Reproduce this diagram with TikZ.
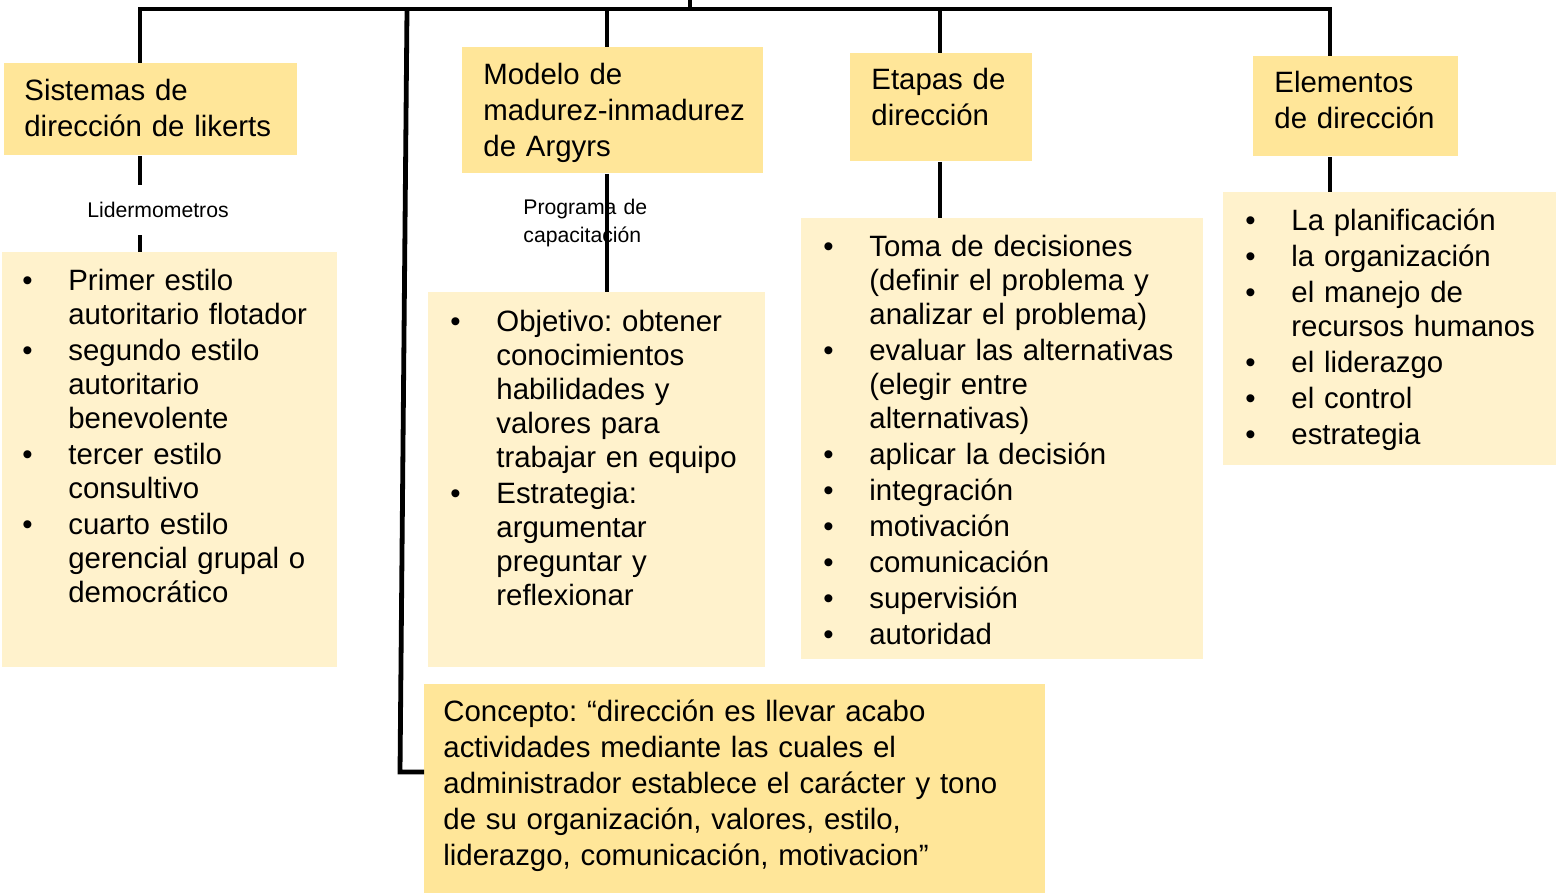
\documentclass[tikz,border=0pt]{standalone}
\usepackage{fontspec}
\setmainfont{Liberation Sans}
\usetikzlibrary{positioning}
\frenchspacing

\definecolor{hdrfill}{HTML}{FFE699}
\definecolor{listfill}{HTML}{FFF2CC}

\newcommand{\bul}[1]{\noindent\hangindent=23pt\hangafter=1\makebox[23pt][l]{\textbullet}#1\par}

\begin{document}
\begin{tikzpicture}[
    x=0.5pt, y=-0.5pt,
    hdrbox/.style={
        rectangle, fill=hdrfill, draw=none,
        anchor=north west, inner sep=0pt
    },
    listbox/.style={
        rectangle, fill=listfill, draw=none,
        anchor=north west, inner sep=0pt
    },
    hdrtext/.style={
        anchor=base west, inner sep=0pt, align=left,
        font=\fontsize{14.7}{18}\selectfont
    },
    listtext/.style={
        anchor=base west, inner sep=0pt, align=left,
        font=\fontsize{14.7}{17}\selectfont
    },
    tag/.style={
        inner sep=0pt, align=left,
        font=\fontsize{10.6}{14}\selectfont
    },
    link/.style={line width=2.4pt, draw=black}
]
\useasboundingbox (0,0) rectangle (1556,895);

% ============ Header boxes ============
\node[hdrbox, minimum width=146.5pt, minimum height=46pt] (likert) at (4,63) {};
\node[hdrtext, text width=140pt] (likert-t) at (24,100) {Sistemas de\\dirección de likerts};

\node[hdrbox, minimum width=150.5pt, minimum height=63pt] (argyris) at (462,47) {};
\node[hdrtext, text width=142pt] (argyris-t) at (483,84) {Modelo de\\madurez-inmadurez\\de Argyrs};

\node[hdrbox, minimum width=91pt, minimum height=54pt] (etapas) at (850,53) {};
\node[hdrtext, text width=84pt] (etapas-t) at (871,89) {Etapas de\\dirección};

\node[hdrbox, minimum width=102.5pt, minimum height=50pt] (elem) at (1253,56) {};
\node[hdrtext, text width=95pt] (elem-t) at (1274,92) {Elementos\\de dirección};

% ============ List boxes ============
\node[listbox, minimum width=167.5pt, minimum height=207.5pt] (styles) at (2,252) {};
\node[listtext, text width=158pt] (styles-t) at (22,290) {%
    \setlength{\parskip}{1pt}\setlength{\parindent}{0pt}%
    \bul{Primer estilo\newline autoritario flotador}%
    \bul{segundo estilo\newline autoritario\newline benevolente}%
    \bul{tercer estilo\newline consultivo}%
    \bul{cuarto estilo\newline gerencial grupal o\newline democrático}};

\node[listbox, minimum width=168.5pt, minimum height=187.5pt] (training) at (428,292) {};
\node[listtext, text width=158pt] (training-t) at (450,331) {%
    \setlength{\parskip}{1pt}\setlength{\parindent}{0pt}%
    \bul{Objetivo: obtener\newline conocimientos\newline habilidades y\newline valores para\newline trabajar en equipo}%
    \bul{Estrategia:\newline argumentar\newline preguntar y\newline reflexionar}};

\node[listbox, minimum width=201pt, minimum height=220.5pt] (stages) at (801,218) {};
\node[listtext, text width=190pt] (stages-t) at (823,256) {%
    \setlength{\parskip}{1pt}\setlength{\parindent}{0pt}%
    \bul{Toma de decisiones\newline (definir el problema y\newline analizar el problema)}%
    \bul{evaluar las alternativas\newline (elegir entre\newline alternativas)}%
    \bul{aplicar la decisión}%
    \bul{integración}%
    \bul{motivación}%
    \bul{comunicación}%
    \bul{supervisión}%
    \bul{autoridad}};

\node[listbox, minimum width=166.5pt, minimum height=136.5pt] (elemlist) at (1223,192) {};
\node[listtext, text width=160pt] (elemlist-t) at (1245,230) {%
    \setlength{\parskip}{1pt}\setlength{\parindent}{0pt}%
    \bul{La planificación}%
    \bul{la organización}%
    \bul{el manejo de\newline recursos humanos}%
    \bul{el liderazgo}%
    \bul{el control}%
    \bul{estrategia}};

% ============ Concept ============
\node[hdrbox, minimum width=310.5pt, minimum height=104.5pt] (concept) at (424,684) {};
\node[hdrtext, text width=300pt] (concept-t) at (443,721) {Concepto: “dirección es llevar acabo\\actividades mediante las cuales el\\administrador establece el carácter y tono\\de su organización, valores, estilo,\\liderazgo, comunicación, motivacion”};

% ============ Small labels ============
\node[tag, minimum height=25pt] (lider) at (158,210) {Lidermometros};
\node[tag, anchor=base west, text width=80pt] (programa) at (523,214) {Programa de\\capacitación};

% ============ Connectors ============
\coordinate (root) at (690,0);
\coordinate (j1) at (140,9);
\coordinate (j2) at (407,9);
\coordinate (j3) at (607,9);
\coordinate (j4) at (940,9);
\coordinate (j5) at (1330,9);
\coordinate (bend) at (400,772);

\draw[link] (j1 |- likert.north) -- (j1) -- (j5) -- (j5 |- elem.north);
\draw[link] (root) -- (root |- j1);
\draw[link] (j3) -- (j3 |- argyris.north);
\draw[link] (j4) -- (j4 |- etapas.north);
\draw[link] (j2) -- (bend) -- (bend -| concept.west);

\draw[link] (j1 |- likert.south) -- (j1 |- lider.north);
\draw[link] (j1 |- lider.south) -- (j1 |- styles.north);
\draw[link] (j3 |- argyris.south) -- (j3 |- training.north);
\draw[link] (j4 |- etapas.south) -- (j4 |- stages.north);
\draw[link] (j5 |- elem.south) -- (j5 |- elemlist.north);

\end{tikzpicture}
\end{document}
